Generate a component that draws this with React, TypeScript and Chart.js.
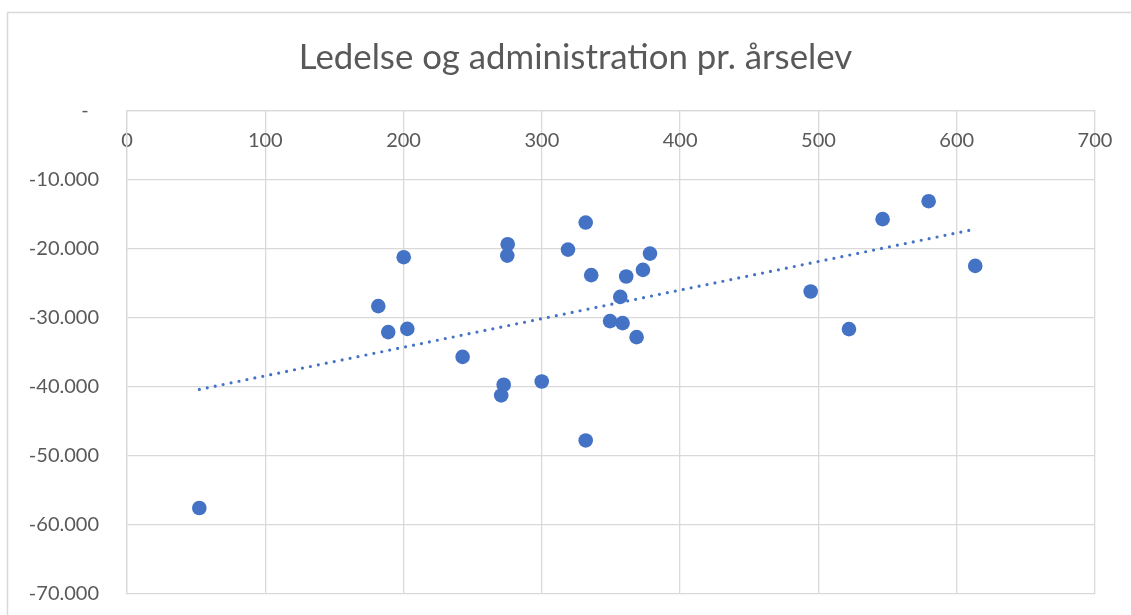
import React, { useEffect, useRef } from "react";
import { Chart, registerables } from "chart.js";

Chart.register(...registerables);

const TITLE = "Ledelse og administration pr. årselev";

// Scatter data (x = antal årselever, y = kr. pr. årselev)
const xValues = [
  52.3, 181.7, 188.9, 200.1, 202.7, 242.7, 270.6, 272.4, 275.0, 275.3, 299.9,
  318.9, 331.7, 331.7, 335.7, 349.3, 356.7, 358.4, 361.0, 368.5, 373.1, 378.2,
  494.4, 522.1, 546.4, 579.7, 613.4,
];
const yValues = [
  -57560, -28340, -32100, -21260, -31630, -35680, -41270, -39720, -21030,
  -19380, -39250, -20160, -16250, -47780, -23860, -30510, -27000, -30800,
  -24060, -32830, -23090, -20740, -26230, -31670, -15760, -13160, -22520,
];

// Axis ranges / ticks
const xAxisRange = [0, 700];
const xAxisStep = 100;
const yAxisRange = [-70000, 0];
const yAxisStep = 10000;

const BLUE = "#4472C4";
const GRID = "#D9D9D9";
const TEXT = "#595959";

function formatY(v: number): string {
  if (v === 0) return "-  ";
  const s = Math.abs(Math.round(v))
    .toString()
    .replace(/\B(?=(\d{3})+(?!\d))/g, ".");
  return (v < 0 ? "-" : "") + s;
}

function linearTrend(xs: number[], ys: number[]) {
  const n = xs.length;
  const mx = xs.reduce((a, b) => a + b, 0) / n;
  const my = ys.reduce((a, b) => a + b, 0) / n;
  let sxy = 0;
  let sxx = 0;
  for (let i = 0; i < n; i++) {
    sxy += (xs[i] - mx) * (ys[i] - my);
    sxx += (xs[i] - mx) * (xs[i] - mx);
  }
  const slope = sxy / sxx;
  const intercept = my - slope * mx;
  const x0 = Math.min(...xs);
  const x1 = Math.max(...xs);
  return [
    { x: x0, y: intercept + slope * x0 },
    { x: x1, y: intercept + slope * x1 },
  ];
}

const frame = {
  id: "frame",
  beforeDraw(chart: any) {
    const ctx = chart.ctx;
    ctx.save();
    ctx.fillStyle = "#ffffff";
    ctx.fillRect(0, 0, chart.width, chart.height);
    ctx.strokeStyle = GRID;
    ctx.lineWidth = 1.5;
    ctx.beginPath();
    ctx.moveTo(7.5, chart.height + 2);
    ctx.lineTo(7.5, 12.5);
    ctx.lineTo(chart.width + 2, 12.5);
    ctx.stroke();
    ctx.restore();
  },
};

export default function App() {
  const ref = useRef<HTMLCanvasElement | null>(null);

  useEffect(() => {
    if (!ref.current) return;
    const points = xValues.map((x, i) => ({ x, y: yValues[i] }));
    const trend = linearTrend(xValues, yValues);

    const chart = new Chart(ref.current, {
      type: "scatter",
      data: {
        datasets: [
          {
            label: "Ledelse og administration",
            data: points,
            backgroundColor: BLUE,
            borderColor: BLUE,
            pointRadius: 7.3,
            pointBorderWidth: 0,
            order: 0,
          },
          {
            label: "Lineær tendens",
            type: "line",
            data: trend,
            borderColor: BLUE,
            borderWidth: 3.2,
            borderDash: [0, 8.1],
            borderCapStyle: "round",
            pointRadius: 0,
            fill: false,
            tension: 0,
            order: 1,
          } as any,
        ],
      },
      options: {
        responsive: false,
        animation: false,
        layout: { padding: { top: 37, left: 20, right: 0, bottom: 21 } },
        plugins: {
          legend: { display: false },
          tooltip: { enabled: false },
          title: {
            display: true,
            text: TITLE,
            color: TEXT,
            font: { family: "Lato", size: 34.8, weight: "normal" as any },
            padding: { top: 0, bottom: 31.5 },
          },
        },
        scales: {
          x: {
            type: "linear",
            position: { y: 0 } as any,
            min: xAxisRange[0],
            max: xAxisRange[1],
            afterFit: (s: any) => {
              s.height = 0;
              s.paddingBottom = 0;
              s.paddingTop = 0;
            },
            ticks: {
              stepSize: xAxisStep,
              color: TEXT,
              font: { family: "Lato", size: 20 },
              padding: 18,
              maxRotation: 0,
            },
            grid: { color: GRID, lineWidth: 1.3, drawTicks: false },
            border: { color: GRID, width: 1.3 },
          },
          y: {
            type: "linear",
            position: "left",
            min: yAxisRange[0],
            max: yAxisRange[1],
            afterFit: (s: any) => {
              s.width = 107;
              s.paddingTop = 0;
              s.paddingBottom = 0;
            },
            ticks: {
              stepSize: yAxisStep,
              color: TEXT,
              font: { family: "Lato", size: 20 },
              padding: 28,
              callback: (v: any) => formatY(Number(v)),
            },
            grid: { color: GRID, lineWidth: 1.3, drawTicks: false },
            border: { color: GRID, width: 1.3 },
          },
          yRightSpace: {
            type: "linear",
            position: "right",
            display: true,
            min: yAxisRange[0],
            max: yAxisRange[1],
            afterFit: (s: any) => {
              s.width = 36;
              s.paddingTop = 0;
              s.paddingBottom = 0;
            },
            ticks: { display: false },
            grid: { display: false, drawTicks: false },
            border: { display: false },
          },
        },
      },
      plugins: [frame],
    });
    return () => chart.destroy();
  }, []);

  return (
    <div style={{ position: "fixed", left: 0, top: 0, width: 1131, height: 615, background: "#fff" }}>
      <canvas ref={ref} width={1131} height={615} style={{ display: "block" }} />
    </div>
  );
}
